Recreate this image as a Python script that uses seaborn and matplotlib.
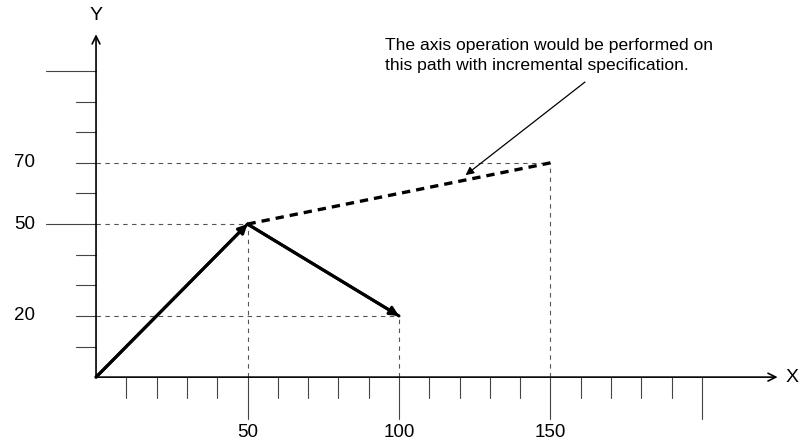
import numpy as np
import pandas as pd
import matplotlib
matplotlib.use("Agg")
import matplotlib.pyplot as plt
import seaborn as sns

# path points (absolute coordinates)
path_x = [0, 50, 100]
path_y = [0, 50, 20]

# path the axis would take with incremental specification
incr_x = [50, 150]
incr_y = [50, 70]

# axis tick positions
x_ticks = list(range(10, 210, 10))
y_ticks = list(range(10, 110, 10))
x_labels = [50, 100, 150]
y_labels = [20, 50, 70]
x_long = [50, 100, 150, 200]
y_long = [50, 100]

note = ("The axis operation would be performed on\n"
        "this path with incremental specification.")

sns.set_theme(style="white")
plt.rcParams["font.family"] = ["Liberation Sans", "DejaVu Sans"]
plt.rcParams["text.color"] = "black"

fig = plt.figure(figsize=(8.04, 4.46), dpi=100)
ax = fig.add_axes([0, 0, 1, 1])
ax.set_xlim(-31.7, 233.7)
ax.set_ylim(-22.5, 123.2)
ax.axis("off")

grey = "#555555"

# guide lines to the points
guides = [(0, 70, 150, 70), (0, 50, 50, 50), (0, 20, 100, 20),
          (50, 0, 50, 50), (100, 0, 100, 20), (150, 0, 150, 70)]
for x0, y0, x1, y1 in guides:
    ax.plot([x0, x1], [y0, y1], color=grey, lw=0.8, dashes=(4, 4), zorder=1)

# axes with open arrowheads
ax.annotate("", xy=(225, 0), xytext=(0, 0),
            arrowprops=dict(arrowstyle="->", color="black", lw=1.2,
                            mutation_scale=14, shrinkA=0, shrinkB=0))
ax.annotate("", xy=(0, 112), xytext=(0, 0),
            arrowprops=dict(arrowstyle="->", color="black", lw=1.2,
                            mutation_scale=14, shrinkA=0, shrinkB=0))
ax.text(229.8, 0, "X", fontsize=14, ha="center", va="center")
ax.text(0, 118, "Y", fontsize=14, ha="center", va="center")

# tick marks
for t in x_ticks:
    ln = 13.7 if t in x_long else 6.9
    ax.plot([t, t], [0, -ln], color="#444444", lw=0.8)
for t in y_ticks:
    ln = 16.5 if t in y_long else 6.6
    ax.plot([0, -ln], [t, t], color="#444444", lw=0.8)
for t in x_labels:
    ax.text(t, -18, str(t), fontsize=13.5, ha="center", va="center")
for t in y_labels:
    ax.text(-23.5, t, str(t), fontsize=13.5, ha="center", va="center")

# the commanded path
df = pd.DataFrame({"x": path_x, "y": path_y})
sns.lineplot(data=df, x="x", y="y", sort=False, color="black", lw=2.2,
             ax=ax, zorder=3)
for i in range(len(path_x) - 1):
    ax.annotate("", xy=(path_x[i + 1], path_y[i + 1]),
                xytext=(path_x[i], path_y[i]),
                arrowprops=dict(arrowstyle="-|>", color="black", lw=2.2,
                                mutation_scale=13, shrinkA=0, shrinkB=0),
                zorder=4)

# incremental path
df_inc = pd.DataFrame({"x": incr_x, "y": incr_y})
sns.lineplot(data=df_inc, x="x", y="y", sort=False, color="black", lw=2.4,
             ax=ax, zorder=3, dashes=False)
ax.lines[-1].set_dashes((2.5, 1.8))

# note with pointer
ax.text(95.4, 105, note, fontsize=12.6, ha="left", va="center",
        linespacing=1.45)
ax.annotate("", xy=(122, 66), xytext=(161.4, 96.4),
            arrowprops=dict(arrowstyle="-|>", color="black", lw=0.9,
                            mutation_scale=12, shrinkA=0, shrinkB=0))

fig.savefig("out.png", dpi=100)
